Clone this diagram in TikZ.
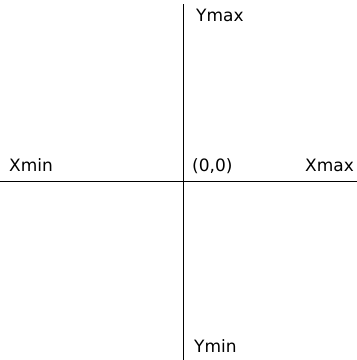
\documentclass[tikz,border=0pt]{standalone}
\usepackage{fontspec}
\setmainfont{DejaVu Sans}
\usetikzlibrary{positioning}

\begin{document}
\begin{tikzpicture}[
  x=1pt, y=1pt,
  axis/.style={draw, line width=1pt},
  lbl/.style={inner sep=0pt, anchor=base west, font=\fontsize{17}{20}\selectfont}
]
\useasboundingbox (0,0) rectangle (357,360);
\coordinate (top) at (184,356);
\coordinate (bottom) at (184,0);
\coordinate (left) at (0,179);
\coordinate (right) at (357,179);
\draw[axis] (top) -- (bottom);
\draw[axis] (left) -- (right);
\node[lbl] (ymax) at (196,339) {Ymax};
\node[lbl] (xmin) at (9,189) {Xmin};
\node[lbl] (origin) at (192,189) {(0,0)};
\node[lbl] (xmax) at (305,189) {Xmax};
\node[lbl] (ymin) at (194,8) {Ymin};
\end{tikzpicture}
\end{document}
